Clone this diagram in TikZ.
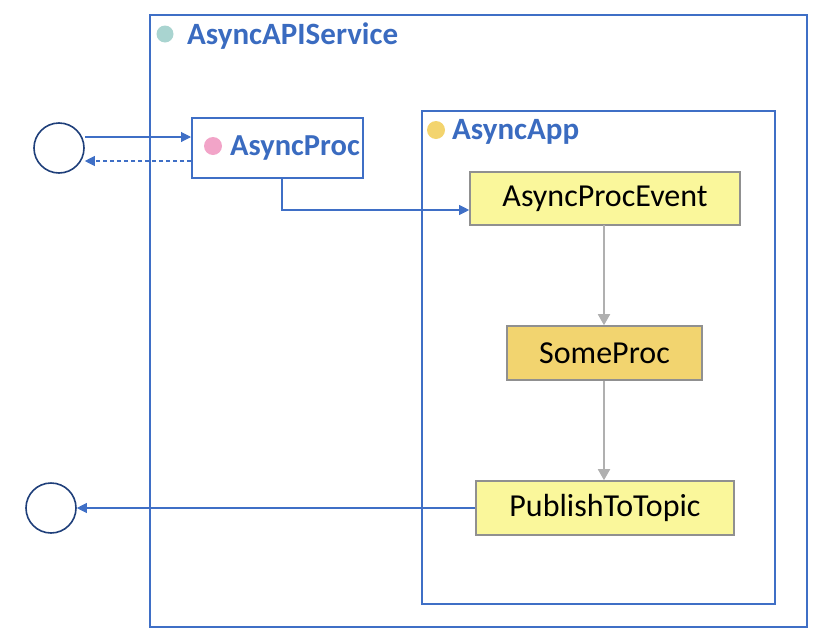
\documentclass[tikz,border=0pt]{standalone}
\usepackage{fontspec}
\setmainfont{Carlito}
\usetikzlibrary{arrows.meta}
\definecolor{cblue}{HTML}{3F6FC6}
\definecolor{tblue}{HTML}{3A6BC0}
\definecolor{navy}{HTML}{1F3F7A}
\definecolor{teal}{HTML}{A9D4D0}
\definecolor{pinkd}{HTML}{F2A4C8}
\definecolor{yeld}{HTML}{F3D46E}
\definecolor{lyel}{HTML}{FAF79B}
\definecolor{gold}{HTML}{F2D46F}
\definecolor{gborder}{HTML}{909090}
\definecolor{garrow}{HTML}{B0B0B0}
\tikzset{
  container/.style={draw=cblue, line width=2pt},
  title/.style={anchor=west, text=tblue, font=\bfseries, inner sep=0pt},
  dot/.style={circle, inner sep=0pt, minimum size=18pt},
  procbox/.style={draw=gborder, line width=1.6pt, inner sep=0pt, font=\fontsize{32}{36}\selectfont},
  endpoint/.style={circle, draw=navy, line width=1.6pt, minimum size=50pt, inner sep=0pt},
  bluearrow/.style={draw=cblue, line width=1.1pt, -{Triangle[length=10pt,width=10pt]}},
  grayarrow/.style={draw=garrow, line width=1.8pt, -{Triangle[length=11pt,width=12pt]}}
}
\begin{document}
\begin{tikzpicture}[x=1pt,y=-1pt]
\useasboundingbox (0,0) rectangle (822,635);
% outer container
\node[container, minimum width=657pt, minimum height=612pt, inner sep=0pt, anchor=north west] (svc) at (149,14) {};
\node[dot, fill=teal, minimum size=17pt] (svcdot) at (165,34) {};
\node[title, font=\bfseries\fontsize{31}{34}\selectfont] (svct) at (187,36) {AsyncAPIService};
% AsyncProc
\node[container, minimum width=171pt, minimum height=60pt, inner sep=0pt, anchor=north west] (proc) at (191,117) {};
\node[dot, fill=pinkd] (procdot) at (213,146) {};
\node[title, font=\bfseries\fontsize{30.5}{34}\selectfont] (proct) at (230,148) {AsyncProc};
% AsyncApp
\node[container, minimum width=353pt, minimum height=493pt, inner sep=0pt, anchor=north west] (app) at (421,110) {};
\node[dot, fill=yeld] (appdot) at (436,130) {};
\node[title, font=\bfseries\fontsize{31}{34}\selectfont] (appt) at (452,132) {AsyncApp};
% steps
\node[procbox, fill=lyel, minimum width=270pt, minimum height=53pt] (ev) at (605,198.5) {AsyncProcEvent};
\node[procbox, fill=gold, minimum width=195pt, minimum height=54pt] (some) at (604.5,353) {SomeProc};
\node[procbox, fill=lyel, minimum width=258pt, minimum height=54pt] (pub) at (605,508) {PublishToTopic};
% endpoints
\node[endpoint] (c1) at (59,148) {};
\node[endpoint] (c2) at (51,508) {};
% connectors
\draw[bluearrow] (c1.east |- 0,137) -- (proc.west |- 0,137);
\draw[bluearrow, dashed, dash pattern=on 4pt off 3pt] (proc.west |- 0,161) -- (c1.east |- 0,161);
\draw[bluearrow] (282,177) -- (282,210) -- (ev.west |- 0,210);
\draw[grayarrow] (604,225) -- (some.north -| 604,0);
\draw[grayarrow] (some.south -| 604,0) -- (pub.north -| 604,0);
\draw[bluearrow] (pub.west) -- (c2.east);
\end{tikzpicture}
\end{document}
